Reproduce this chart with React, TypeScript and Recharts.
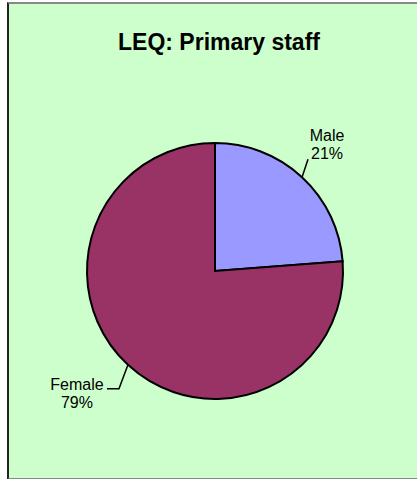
import { PieChart, Pie, Cell } from "recharts";

const categories = ["Male", "Female"];
// slice sizes as drawn; the printed labels are kept separately as shown
const sliceValues = [23.8, 76.2];
const percentLabels = ["21%", "79%"];
const sliceColors = ["#9999FF", "#993366"];

const data = categories.map((name, i) => ({ name, value: sliceValues[i], pct: percentLabels[i] }));

const RADIAN = Math.PI / 180;
const FONT = "'Liberation Sans', Arial, sans-serif";

// leader line bends / text offsets per slice
const leader = [
  { dx: 6, dy: -18, hx: 0, tx: 19, ty: -18 },
  { dx: -9, dy: 24, hx: -12, tx: -30, ty: 1 },
];

const renderLabel = (props: any) => {
  const { cx, cy, midAngle, outerRadius, index } = props;
  const sx = cx + outerRadius * Math.cos(-midAngle * RADIAN);
  const sy = cy + outerRadius * Math.sin(-midAngle * RADIAN);
  const l = leader[index];
  const mx = sx + l.dx;
  const my = sy + l.dy;
  const ex = mx + l.hx;
  const tx = ex + l.tx;
  const ty = my + l.ty;
  return (
    <g key={`lbl-${index}`}>
      <polyline points={`${sx},${sy} ${mx},${my} ${ex},${my}`} fill="none" stroke="#000" strokeWidth={1.5} />
      <text x={tx} y={ty} textAnchor="middle" fontFamily={FONT} fontSize={16} fill="#000">
        <tspan x={tx} dy={0}>{data[index].name}</tspan>
        <tspan x={tx} dy={18}>{data[index].pct}</tspan>
      </text>
    </g>
  );
};

export default function App() {
  return (
    <div style={{ position: "absolute", left: 0, top: 0, width: 417, height: 479, overflow: "hidden" }}>
      <div
        style={{
          position: "absolute",
          left: 7,
          top: 2,
          width: 420,
          height: 474,
          background: "#CCFFCC",
          borderLeft: "2px solid #222",
          borderTop: "2px solid #888",
          borderBottom: "2px solid #888",
        }}
      />
      <div
        style={{
          position: "absolute",
          left: 8,
          top: 29,
          width: 422,
          textAlign: "center",
          fontFamily: FONT,
          fontWeight: "bold",
          fontSize: 23,
          lineHeight: "normal",
          color: "#000",
        }}
      >
        LEQ: Primary staff
      </div>
      <div style={{ position: "absolute", left: 0, top: 0 }}>
        <PieChart width={417} height={479} margin={{ top: 0, right: 0, bottom: 0, left: 0 }}>
          <Pie
            data={data}
            dataKey="value"
            nameKey="name"
            cx={215}
            cy={271}
            outerRadius={128}
            startAngle={90}
            endAngle={-270}
            stroke="#000"
            strokeWidth={2}
            label={renderLabel}
            labelLine={false}
            isAnimationActive={false}
          >
            {data.map((d, i) => (
              <Cell key={d.name} fill={sliceColors[i]} />
            ))}
          </Pie>
        </PieChart>
      </div>
    </div>
  );
}
